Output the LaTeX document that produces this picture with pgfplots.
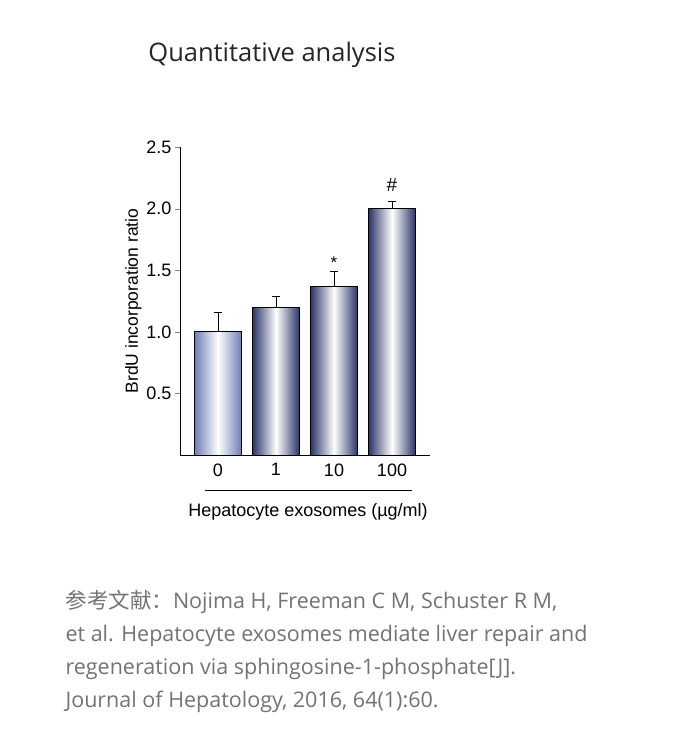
\documentclass[border=0pt]{standalone}
\usepackage{pgfplots}
\pgfplotsset{compat=1.18}
\usepackage{fontspec}
\setmainfont{Liberation Sans}
\newfontfamily\osans{Open Sans}
\newfontfamily\cjk{Noto Sans CJK SC}
\definecolor{bd}{RGB}{45,55,105}
\definecolor{bl}{RGB}{130,150,215}
\begin{document}
\begin{tikzpicture}[x=1pt,y=1pt]
\fill[white] (0,0) rectangle (678,-734);
\node[font=\osans\fontsize{25.5}{30}\selectfont,text=black!85] at (272,-55) {Quantitative analysis};
\begin{axis}[at={(180pt,-455pt)},anchor=south west,scale only axis,width=250pt,height=308pt,
 xmin=-0.655,xmax=3.655,ymin=0,ymax=2.5,
 axis lines*=left, axis line style={line width=0.9pt},
 xtick={0,1,2,3},xticklabels={0,1,10,100},major x tick style={draw=none},
 ytick={0.5,1.0,1.5,2.0,2.5},yticklabel style={/pgf/number format/fixed,/pgf/number format/fixed zerofill,/pgf/number format/precision=1},
 /pgf/number format/assume math mode=true,
 tick align=outside, major tick length=5pt,
 ticklabel style={font=\fontsize{18}{20}\selectfont},
 ylabel={BrdU incorporation ratio},ylabel style={font=\fontsize{17.5}{20}\selectfont,yshift=-2pt},
 ybar,bar width=0.8,bar shift=0pt,
 error bars/y dir=plus,error bars/y explicit,error bars/error mark options={rotate=90,mark size=4pt,line width=0.9pt},
 error bars/error bar style={line width=0.9pt},
 clip=false]
\addplot[draw=black,line width=0.9pt,left color=bl!85!black,right color=bl!85!black,middle color=white] coordinates {(0,1.0) +- (0,0.16)};
\addplot[draw=black,line width=0.9pt,left color=bd,right color=bd,middle color=white] coordinates {(1,1.2) +- (0,0.09)};
\addplot[draw=black,line width=0.9pt,left color=bd,right color=bd,middle color=white] coordinates {(2,1.37) +- (0,0.12)};
\addplot[draw=black,line width=0.9pt,left color=bd,right color=bd,middle color=white] coordinates {(3,2.0) +- (0,0.06)};
\node[font=\fontsize{17}{20}\selectfont] at (axis cs:2,1.56) {*};
\node[font=\fontsize{19}{22}\selectfont] at (axis cs:3,2.19) {\#};
\end{axis}
\draw[line width=0.9pt] (205,-490) -- (412,-490);
\node[font=\fontsize{18}{21}\selectfont] at (308,-512) {Hepatocyte exosomes (µg/ml)};
\begin{scope}[text=black!55]
\node[anchor=base west,font=\osans\fontsize{21.5}{26}\selectfont] at (62,-608) {{\cjk 参考文献：}Nojima H, Freeman C M, Schuster R M,};
\node[anchor=base west,font=\osans\fontsize{21.5}{26}\selectfont] at (62,-641) {et al. Hepatocyte exosomes mediate liver repair and};
\node[anchor=base west,font=\osans\fontsize{21.5}{26}\selectfont] at (62,-674) {regeneration via sphingosine-1-phosphate[J].};
\node[anchor=base west,font=\osans\fontsize{21.5}{26}\selectfont] at (62,-707) {Journal of Hepatology, 2016, 64(1):60.};
\end{scope}
\end{tikzpicture}
\end{document}
